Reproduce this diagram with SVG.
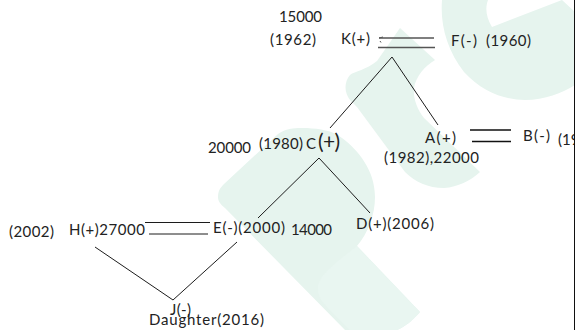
<svg xmlns="http://www.w3.org/2000/svg" width="575" height="330" viewBox="0 0 575 330">
<style>
text{font-family:"Lato","Open Sans","Liberation Sans",sans-serif;font-size:15px;fill:#222}
.big{font-size:21px}
.wm{fill:#e6f4ee}
.c{stroke:#1c1c1c;stroke-width:1;fill:none}
.g{stroke:#555;stroke-width:1.6;fill:none}
.t{stroke:#555;stroke-width:1;fill:none}
.d{stroke:#111;stroke-width:1.5;fill:none}
</style>
<rect width="575" height="330" fill="#fff"/>
<g id="watermark">
<path class="wm" d="M442 0C440 25 447 50 464 72C482 92 505 100 525 100C545 100 562 93 575 85L575 12L562 0L492 27C486 17 485 8 488 0Z"/>
<path class="wm" d="M400 28L435 60C425 66 416 76 414 88C413 100 418 110 424 118L480 172C470 181 458 187 444 188C428 188 415 182 405 172L357 107L350 100C344 92 344 82 350 75C355 71 366 70 377 61Z"/>
<path class="wm" d="M218 197C218 191 220 188 224 184L278 134C288 127 298 128 307 128C320 129 332 130 342 138C358 150 375 170 375 197C375 215 368 233 357 246L420 312C413 320 405 327 397 330L345 330L225 208C220 204 218 201 218 197Z"/>
<path fill="#e9f6f1" d="M357 246C337 262 318 275 318 288C318 297 322 302 328 308L350 330L397 330C405 327 413 320 420 312Z"/>
</g>
<g id="connectors">
<path class="g" d="M379 38H434M378 47.5H435"/>
<path class="t" d="M383 37L379 38M380 41L381 42.500"/>
<path class="c" d="M330 128L392 57L438 125"/>
<path class="d" d="M470 130H511M472 141.500H511"/>
<path class="c" d="M258 218L319 158L370 213"/>
<path class="c" d="M145 222.500H210M149 234H208"/>
<path class="c" d="M95 247L173 300L237 242"/>
</g>
<g id="node-k"><text x="341" y="44" textLength="29">K(+)</text><text x="279" y="22" textLength="43">15000</text><text x="270" y="45" textLength="46">(1962)</text></g>
<g id="node-f"><text x="451" y="46" textLength="26">F(-)</text><text x="486" y="46" textLength="45">(1960)</text></g>
<g id="node-c"><text x="208" y="153" textLength="43">20000</text><text x="259" y="149" textLength="44">(1980)</text><text x="306" y="149" textLength="11">C</text><text class="big" x="318" y="149" textLength="22">(+)</text></g>
<g id="node-a"><text x="425" y="143" textLength="31">A(+)</text><text x="384" y="163" textLength="95">(1982),22000</text></g>
<g id="node-b"><text x="523" y="141" textLength="27">B(-)</text><text x="558" y="145">(19</text></g>
<g id="node-e"><text x="213" y="233" textLength="72">E(-)(2000)</text><text x="291" y="235" textLength="41">14000</text></g>
<g id="node-d"><text x="356" y="229" textLength="78">D(+)(2006)</text></g>
<g id="node-h"><text x="9" y="237" textLength="45">(2002)</text><text x="69" y="235" textLength="76">H(+)27000</text></g>
<g id="node-j"><text x="170" y="315" textLength="21">J(-)</text><text x="149" y="325" textLength="115">Daughter(2016)</text></g>
<rect x="574" y="0" width="1" height="330" fill="#111"/>
</svg>
